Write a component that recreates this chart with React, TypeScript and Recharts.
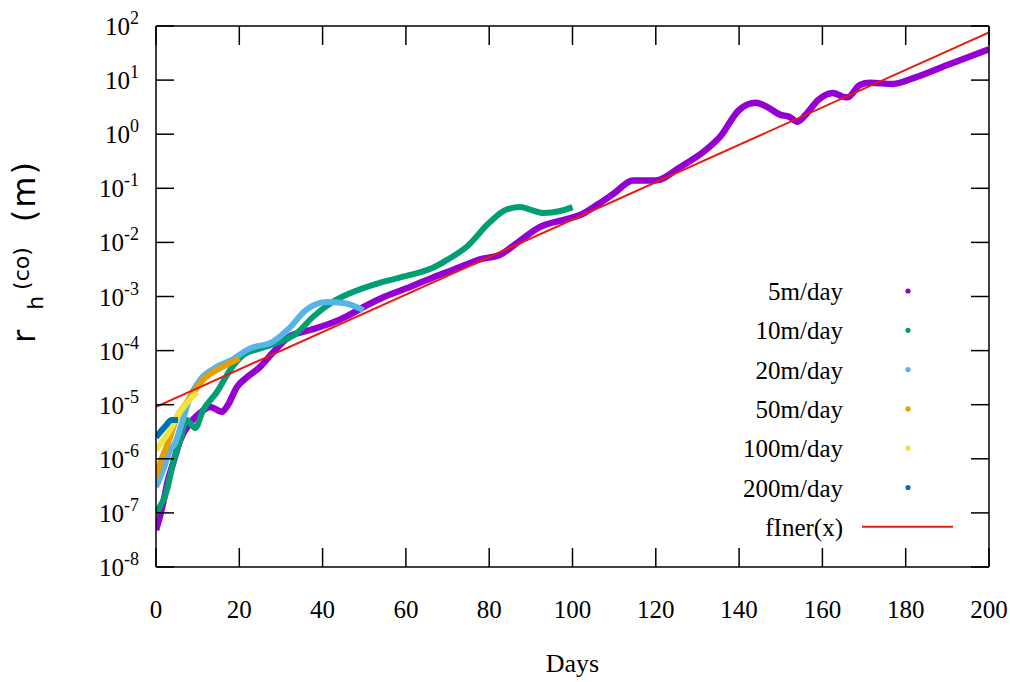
import { LineChart, Line, XAxis, YAxis, Legend } from 'recharts';

// [day, r_h] pairs
const rate5 = [
  [0, 4.8e-8], [1, 9e-8], [1.7, 1.5e-7], [2.9, 4.1e-7], [4.1, 8.3e-7], [5.8, 2.2e-6],
  [8.2, 4.6e-6], [10.6, 7.1e-6], [13, 9.1e-6], [15.8, 7.4e-6], [17.3, 1e-5], [19.4, 2.1e-5],
  [21.8, 3.2e-5], [25, 5e-5], [28, 9.1e-5], [32, 1.8e-4], [37, 2.4e-4], [42, 3.2e-4],
  [46, 4.4e-4], [50, 6.5e-4], [55, 1e-3], [61, 1.5e-3], [68, 2.5e-3], [73, 3.5e-3],
  [78, 4.9e-3], [82.6, 5.9e-3], [86.7, 9.8e-3], [92, 1.9e-2], [98.6, 2.7e-2], [101.8, 3.2e-2],
  [106, 5e-2], [110, 8.1e-2], [114.5, 0.14], [120, 0.14], [125.8, 0.245], [132, 0.51],
  [135.4, 0.89], [140, 2.8], [144, 3.8], [146.7, 3.2], [149.8, 2.3], [152, 2.1], [154, 1.7],
  [156, 2.3], [159, 4.3], [162.5, 5.8], [165, 4.9], [166, 4.8], [169, 8.1], [171.4, 8.9],
  [177, 8.5], [182, 11], [190, 19], [200, 37],
];
const rate10 = [
  [0, 1e-7], [2.6, 2.6e-7], [4.1, 8.3e-7], [5.8, 2.2e-6], [7.4, 5.2e-6], [9.4, 3.7e-6],
  [11.3, 7.9e-6], [14.6, 1.7e-5], [17.8, 4.4e-5], [21, 8.3e-5], [25, 1.1e-4], [28, 1.3e-4],
  [33.8, 2.1e-4], [37.7, 4.2e-4], [42, 7.6e-4], [46.6, 1.15e-3], [53.8, 1.8e-3], [61, 2.5e-3],
  [66.5, 3.4e-3], [70, 4.8e-3], [74.6, 8.3e-3], [80, 2.3e-2], [84, 4e-2], [87.4, 4.5e-2],
  [90, 4e-2], [93, 3.5e-2], [97, 3.8e-2], [100, 4.5e-2],
];
const rate20 = [
  [0, 3e-7], [1.7, 6.2e-7], [3.4, 1.45e-6], [4.6, 1.95e-6], [6.2, 4.6e-6], [8.2, 1.4e-5],
  [10.6, 2.9e-5], [14.6, 5e-5], [17.8, 6.5e-5], [22.6, 1.1e-4], [28, 1.45e-4], [32, 2.6e-4],
  [36, 5.6e-4], [41, 7.9e-4], [45, 7.6e-4], [49.8, 5.6e-4],
];
const rate50 = [
  [0, 4.6e-7], [1, 8.3e-7], [3.4, 2.5e-6], [5, 5.9e-6], [6.6, 9.1e-6], [9, 1.66e-5],
  [11.3, 2.9e-5], [14.6, 4.4e-5], [17.8, 5.9e-5], [20, 7.2e-5],
];
const rate100 = [[0, 1.45e-6], [1.7, 2.2e-6], [3.4, 3.4e-6], [5, 5.9e-6], [7.4, 1.07e-5], [9.8, 1.7e-5]];
const rate200 = [[0, 2.5e-6], [2.1, 3.9e-6], [3.8, 5.2e-6], [5.3, 5.2e-6]];
const fitLine = [[0, 9.1e-6], [200, 76]];

const xTicks = [0, 20, 40, 60, 80, 100, 120, 140, 160, 180, 200];
const yTicks = [1e-8, 1e-7, 1e-6, 1e-5, 1e-4, 1e-3, 1e-2, 1e-1, 1, 10, 100];

const series = [
  { name: '5m/day', data: rate5, color: '#9400d3' },
  { name: '10m/day', data: rate10, color: '#009e73' },
  { name: '20m/day', data: rate20, color: '#56b4e9' },
  { name: '50m/day', data: rate50, color: '#e69f00' },
  { name: '100m/day', data: rate100, color: '#f0e442' },
  { name: '200m/day', data: rate200, color: '#0072b2' },
];
const fitColor = '#e51e10';

const serif = '"Liberation Serif", "DejaVu Serif", serif';
const toRows = (pairs: number[][]) => pairs.map(([day, r]) => ({ day, r }));

function LeftTick({ x, y, payload }: any) {
  const exp = Math.round(Math.log10(payload.value));
  return (
    <g>
      <line x1={x} x2={x + 18} y1={y} y2={y} stroke="#000" strokeWidth={1.5} />
      <text x={x - 17} y={y + 9} textAnchor="end" fontFamily={serif} fontSize={25} fill="#000">
        10<tspan dy={-11} fontSize={18}>{exp}</tspan>
      </text>
    </g>
  );
}

function RightTick({ x, y }: any) {
  return <line x1={x - 18} x2={x} y1={y} y2={y} stroke="#000" strokeWidth={1.5} />;
}

function BottomTick({ x, y, payload }: any) {
  return (
    <g>
      <line x1={x} x2={x} y1={y} y2={y - 19} stroke="#000" strokeWidth={1.5} />
      <text x={x} y={y + 51} textAnchor="middle" fontFamily={serif} fontSize={25} fill="#000">
        {payload.value}
      </text>
    </g>
  );
}

function TopTick({ x, y }: any) {
  return <line x1={x} x2={x} y1={y} y2={y + 19} stroke="#000" strokeWidth={1.5} />;
}

function YTitle() {
  return (
    <text
      x={35}
      y={343}
      transform="rotate(-90, 35, 343)"
      textAnchor="start"
      fontFamily='"DejaVu Sans", sans-serif'
      fontSize={32}
      fill="#000"
    >
      r
      <tspan fontSize={22} dx={20} dy={8}>h</tspan>
      <tspan fontSize={22} dx={6} dy={-14}>(co)</tspan>
      <tspan dx={25} dy={6} letterSpacing={2}>(m)</tspan>
    </text>
  );
}

function KeyBox() {
  const rowY = (i: number) => 21 + i * 39.3;
  return (
    <svg width={300} height={280}>
      {series.map((s, i) => (
        <g key={s.name}>
          <text x={153} y={rowY(i) + 9} textAnchor="end" fontFamily={serif} fontSize={25} fill="#000">
            {s.name}
          </text>
          <circle cx={218} cy={rowY(i)} r={2.6} fill={s.color} />
        </g>
      ))}
      <text x={153} y={rowY(6) + 9} textAnchor="end" fontFamily={serif} fontSize={25} fill="#000">
        fIner(x)
      </text>
      <line x1={172} x2={263} y1={rowY(6)} y2={rowY(6)} stroke={fitColor} strokeWidth={2} />
    </svg>
  );
}

export default function App() {
  return (
    <div style={{ width: 1010, height: 682, background: '#fff' }}>
      <style>{'body{margin:0}'}</style>
      <LineChart width={1010} height={682} margin={{ top: 25, right: 20, bottom: 114, left: 155 }}>
        <XAxis
          xAxisId="b"
          type="number"
          dataKey="day"
          domain={[0, 200]}
          ticks={xTicks}
          allowDataOverflow
          height={1}
          tickSize={0}
          tickMargin={0}
          tickLine={false}
          tick={<BottomTick />}
          axisLine={{ stroke: '#000', strokeWidth: 1.5 }}
          label={{
            value: 'Days',
            position: 'bottom',
            offset: 86,
            style: { fontFamily: serif, fontSize: 26, fill: '#000' },
          }}
        />
        <XAxis
          xAxisId="t"
          orientation="top"
          type="number"
          dataKey="day"
          domain={[0, 200]}
          ticks={xTicks}
          allowDataOverflow
          height={1}
          tickSize={0}
          tickMargin={0}
          tickLine={false}
          tick={<TopTick />}
          axisLine={{ stroke: '#000', strokeWidth: 1.5 }}
        />
        <YAxis
          yAxisId="l"
          type="number"
          scale="log"
          domain={[1e-8, 100]}
          ticks={yTicks}
          allowDataOverflow
          width={1}
          tickSize={0}
          tickMargin={0}
          tickLine={false}
          tick={<LeftTick />}
          axisLine={{ stroke: '#000', strokeWidth: 1.5 }}
          label={{ content: () => <YTitle /> }}
        />
        <YAxis
          yAxisId="r"
          orientation="right"
          type="number"
          scale="log"
          domain={[1e-8, 100]}
          ticks={yTicks}
          allowDataOverflow
          width={1}
          tickSize={0}
          tickMargin={0}
          tickLine={false}
          tick={<RightTick />}
          axisLine={{ stroke: '#000', strokeWidth: 1.5 }}
        />
        {series.map((s) => (
          <Line
            key={s.name}
            name={s.name}
            data={toRows(s.data)}
            dataKey="r"
            xAxisId="b"
            yAxisId="l"
            type="monotone"
            stroke={s.color}
            strokeWidth={s.name === '5m/day' ? 6.5 : 6}
            dot={false}
            isAnimationActive={false}
          />
        ))}
        <Line
          name="fIner(x)"
          data={toRows(fitLine)}
          dataKey="r"
          xAxisId="b"
          yAxisId="l"
          type="linear"
          stroke={fitColor}
          strokeWidth={2}
          dot={false}
          isAnimationActive={false}
        />
        <Legend
          layout="horizontal"
          verticalAlign="middle"
          content={() => <KeyBox />}
          wrapperStyle={{ top: 270, left: 690, width: 300, height: 280 }}
        />
      </LineChart>
    </div>
  );
}
